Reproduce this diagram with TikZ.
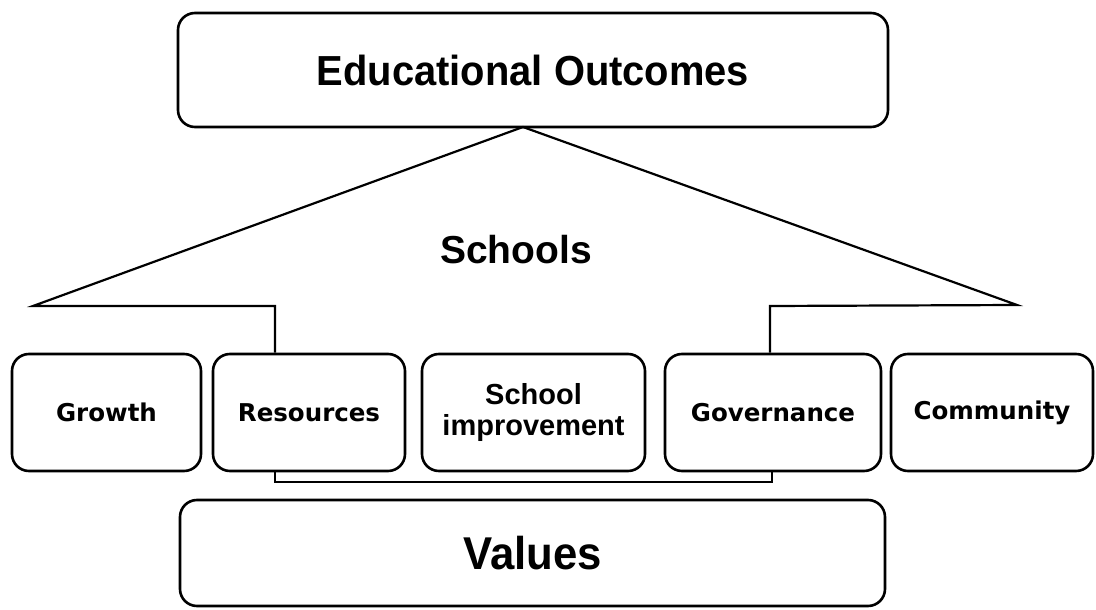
\documentclass[tikz,border=0pt]{standalone}
\usepackage{fontspec}
\setmainfont{Liberation Sans}
\newfontfamily\narrowfont[FakeStretch=0.95]{Liberation Sans}
\newfontfamily\widefont{DejaVu Sans}
\begin{document}
\begin{tikzpicture}[x=1pt,y=-1pt,
  box/.style={draw=black,line width=2.6pt,rounded corners=17pt,inner sep=0pt,fill=white},
  bigtext/.style={font=\narrowfont\bfseries\fontsize{42}{48}\selectfont},
  smalltext/.style={font=\widefont\bfseries\fontsize{24.5}{30}\selectfont},
  twoline/.style={font=\bfseries\fontsize{29}{31}\selectfont,align=center},
  link/.style={draw=black,line width=2.2pt,line join=miter}]
\useasboundingbox (0,0) rectangle (1096,610);

% top and bottom frames
\node[box,minimum width=710pt,minimum height=114pt,bigtext] (outcomes) at (533,70) {Educational Outcomes};
\node[box,minimum width=705pt,minimum height=106pt,bigtext,font=\narrowfont\bfseries\fontsize{46}{52}\selectfont] (values) at (532.5,553) {Values};

% row of school areas
\node[box,minimum width=189pt,minimum height=117pt,smalltext] (growth) at (106.5,412.5) {Growth};
\node[box,minimum width=192pt,minimum height=117pt,smalltext] (resources) at (309,412.5) {Resources};
\node[box,minimum width=223pt,minimum height=117pt,twoline] (improve) at (533.5,412.5) {School\\improvement};
\node[box,minimum width=216pt,minimum height=117pt,smalltext] (governance) at (773,412.5) {Governance};
\node[box,minimum width=202pt,minimum height=117pt,smalltext] (community) at (992,412.5) {Community};

% roof of the schools arrow
\coordinate (apex) at (523,127);
\coordinate (ltip) at (33,306);
\coordinate (rtip) at (1017,305);
\coordinate (lstep) at (275,306);
\coordinate (rstep) at (770,306);
\node[font=\bfseries\fontsize{39}{46}\selectfont] (schools) at (516,250) {Schools};

\draw[link] (resources.north -| lstep) -- (lstep) -- (ltip) -- (apex) -- (rtip) -- (rstep) -- (governance.north -| rstep);

% bracket below the row
\coordinate (lbr) at (275,482);
\coordinate (rbr) at (772,482);
\draw[link,line width=1.8pt] (resources.south -| lbr) -- (lbr) -- (rbr) -- (governance.south -| rbr);
\end{tikzpicture}
\end{document}
